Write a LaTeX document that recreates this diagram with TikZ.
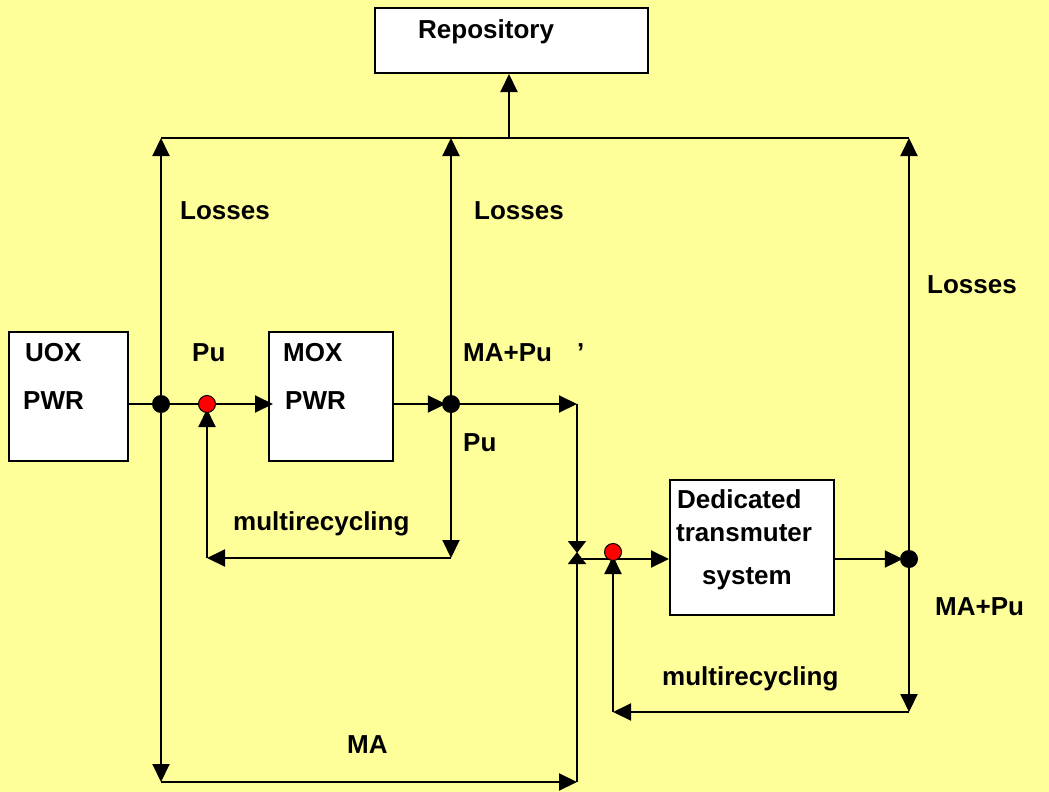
\documentclass[tikz,border=0pt]{standalone}
\usepackage{fontspec}
\setmainfont{Liberation Sans}
\usetikzlibrary{arrows.meta,calc}
\definecolor{bgyellow}{RGB}{255,255,153}
\pgfdeclarelayer{fg}
\pgfsetlayers{main,fg}
\begin{document}
\begin{tikzpicture}[x=1pt,y=-1pt,
  box/.style={draw=black,fill=white,line width=2pt,inner sep=0pt,anchor=center},
  lbl/.style={font=\fontsize{26}{31}\selectfont\bfseries,inner sep=0pt,anchor=base west,text=black},
  wire/.style={line width=2pt,draw=black},
  arr/.style={wire,-{Triangle[length=18pt,width=17pt]}},
  bowarr/.style={wire,-{Triangle[length=12pt,width=18pt]}},
  jdot/.style={circle,fill=black,minimum size=18pt,inner sep=0pt},
  rdot/.style={circle,fill=red,draw=black,line width=1pt,minimum size=17pt,inner sep=0pt}]
\fill[bgyellow] (0,0) rectangle (1049,792);
\useasboundingbox (0,0) rectangle (1049,792);

% boxes
\node[box,minimum width=273pt,minimum height=65pt] (rep) at (511.5,40.5) {};
\node[box,minimum width=119pt,minimum height=129pt] (uox) at (68.5,396.5) {};
\node[box,minimum width=124pt,minimum height=129pt] (mox) at (331,396.5) {};
\node[box,minimum width=164pt,minimum height=135pt] (tms) at (752,547.5) {};

% dots (on top)
\begin{pgfonlayer}{fg}
\node[jdot] (d1) at (161,404) {};
\node[jdot] (d2) at (451,404) {};
\node[jdot] (d3) at (909,559) {};
\node[rdot] (r1) at (207,404) {};
\node[rdot] (r2) at (613,552) {};
\end{pgfonlayer}

% corner coordinates
\coordinate (tl) at (161,138);
\coordinate (tm) at (451,138);
\coordinate (tr) at (909,138);
\coordinate (trep) at (509,138);
\coordinate (c1) at (577,404);
\coordinate (bowt) at (577,553);
\coordinate (bowb) at (577,552);
\coordinate (j2) at (577,559);
\coordinate (lb1) at (207,558);
\coordinate (lb2) at (451,558);
\coordinate (lb3) at (613,712);
\coordinate (lb4) at (909,712);
\coordinate (bl1) at (161,782);
\coordinate (bl2) at (577,782);

% connectors
\draw[wire] (uox.east |- d1) -- (d1.center) -- (r1.center);
\draw[arr,shorten >=-5pt] (r1.center) -- (mox.west |- r1);
\draw[arr,shorten >=-4pt] (mox.east |- d2) -- (d2.west);
\draw[arr] (d2.center) -- (c1);
\draw[bowarr] (c1) -- (bowt);
\draw[arr] (j2) -- (tms.west |- j2);
\draw[arr,shorten >=-3pt] (tms.east |- d3) -- (d3.west);
\draw[arr] (d1.center) -- (tl);
\draw[arr] (d2.center) -- (tm);
\draw[arr] (d3.center) -- (tr);
\draw[wire] (tl) -- (tr);
\draw[arr] (trep) -- (trep |- rep.south);
\draw[arr] (d2.center) -- (lb2);
\draw[arr] (lb2) -- (lb1);
\draw[arr,shorten >=5pt] (lb1) -- (r1.center);
\draw[arr] (d3.center) -- (lb4);
\draw[arr] (lb4) -- (lb3);
\draw[arr,shorten >=4pt] (lb3) -- (r2.center);
\draw[arr] (d1.center) -- (bl1);
\draw[arr] (bl1) -- (bl2);
\draw[bowarr] (bl2) -- (bowb);

% labels
\node[lbl] (lrep) at (418,38) {Repository};
\node[lbl] (lloss1) at (180,219) {Losses};
\node[lbl] (lloss2) at (474,219) {Losses};
\node[lbl] (lloss3) at (927,293) {Losses};
\node[lbl] (luox) at (25,361) {UOX};
\node[lbl] (lpwr1) at (23,409) {PWR};
\node[lbl] (lpu1) at (192,361) {Pu};
\node[lbl] (lmox) at (283,361) {MOX};
\node[lbl] (lpwr2) at (285,409) {PWR};
\node[lbl] (lmapu1) at (463,361) {MA+Pu};
\node[lbl] (lq) at (577,361) {’};
\node[lbl] (lpu2) at (463,451) {Pu};
\node[lbl] (lmr1) at (233,530) {multirecycling};
\node[lbl] (lded) at (677,508) {Dedicated};
\node[lbl] (ltr) at (676,541) {transmuter};
\node[lbl] (lsys) at (702,584) {system};
\node[lbl] (lmapu2) at (935,615) {MA+Pu};
\node[lbl] (lmr2) at (662,685) {multirecycling};
\node[lbl] (lma) at (347,753) {MA};
\end{tikzpicture}
\end{document}
